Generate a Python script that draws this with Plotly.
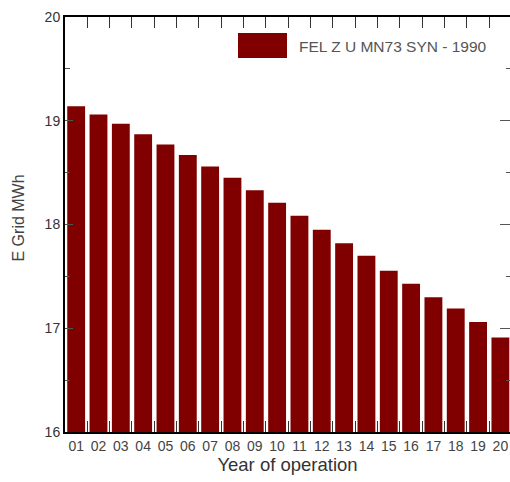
import plotly.graph_objects as go

years = ["01", "02", "03", "04", "05", "06", "07", "08", "09", "10",
         "11", "12", "13", "14", "15", "16", "17", "18", "19", "20"]
e_grid = [19.14, 19.06, 18.97, 18.87, 18.77, 18.67, 18.56, 18.45, 18.33, 18.21,
          18.085, 17.95, 17.82, 17.70, 17.555, 17.43, 17.30, 17.19, 17.06, 16.91]
series_name = "FEL Z U MN73 SYN - 1990"
y_ticks = [16, 17, 18, 19, 20]

BAR = "#800000"
FONT = "Liberation Sans, Arial, sans-serif"

fig = go.Figure()
fig.add_trace(go.Bar(x=years, y=e_grid, name=series_name, marker=dict(color=BAR, line=dict(width=0)),
                     showlegend=False))
# empty trace so the right-hand tick axis is drawn
fig.add_trace(go.Scatter(x=[], y=[], yaxis="y2", showlegend=False, hoverinfo="skip"))

W, H = 510, 482
L, R, T, B = 65, 0, 17, 50
pw, ph = W - L - R, H - T - B

def px(x):
    return (x - L) / pw

def py(y):
    return 1 - (y - T) / ph

fig.update_layout(
    width=W, height=H,
    margin=dict(l=L, r=R, t=T, b=B),
    paper_bgcolor="white", plot_bgcolor="white",
    font=dict(family=FONT, size=14, color="#333333"),
    bargap=0.2,
    xaxis=dict(
        type="category", range=[-0.5, 19.43],
        showline=True, linecolor="black", linewidth=2, mirror="ticks",
        ticks="inside", ticklen=11, tickcolor="#333333", tickwidth=1,
        tickson="boundaries", showgrid=False, zeroline=False, tickangle=0,
        tickfont=dict(size=14, color="#444444"),
        title=dict(text="Year of operation", font=dict(size=18.5, color="#333333"), standoff=5),
    ),
    yaxis=dict(
        range=[16, 20], tickvals=y_ticks, ticktext=[str(v) for v in y_ticks],
        showline=True, linecolor="black", linewidth=2, mirror=False,
        ticks="inside", ticklen=8, tickcolor="#555555", tickwidth=1,
        minor=dict(ticks="inside", ticklen=5, dtick=0.5, tickcolor="#555555", showgrid=False),
        showgrid=False, zeroline=False,
        tickfont=dict(size=14, color="#333333"),
    ),
    yaxis2=dict(
        overlaying="y", side="right", range=[16, 20], tickvals=y_ticks,
        showline=False, showticklabels=False, showgrid=False, zeroline=False,
        ticks="inside", ticklen=10, tickcolor="#555555", tickwidth=1,
        minor=dict(ticks="inside", ticklen=4, dtick=0.5, tickcolor="#555555", showgrid=False),
    ),
    showlegend=False,
)

# legend drawn manually (large swatch like the reference)
fig.add_shape(type="rect", xref="paper", yref="paper",
              x0=px(238), x1=px(287), y0=py(58), y1=py(33),
              fillcolor=BAR, line=dict(width=0))
fig.add_annotation(text=series_name, xref="paper", yref="paper",
                   x=px(297), y=py(46), xanchor="left", yanchor="middle",
                   showarrow=False, font=dict(size=15.5, color="#555555", family=FONT))

# y axis title
fig.add_annotation(text="E Grid MWh", xref="paper", yref="paper",
                   x=px(17.5), y=py(218), xanchor="center", yanchor="middle",
                   textangle=-90, showarrow=False,
                   font=dict(size=16, color="#444444", family=FONT))

fig.write_html("out.html")
